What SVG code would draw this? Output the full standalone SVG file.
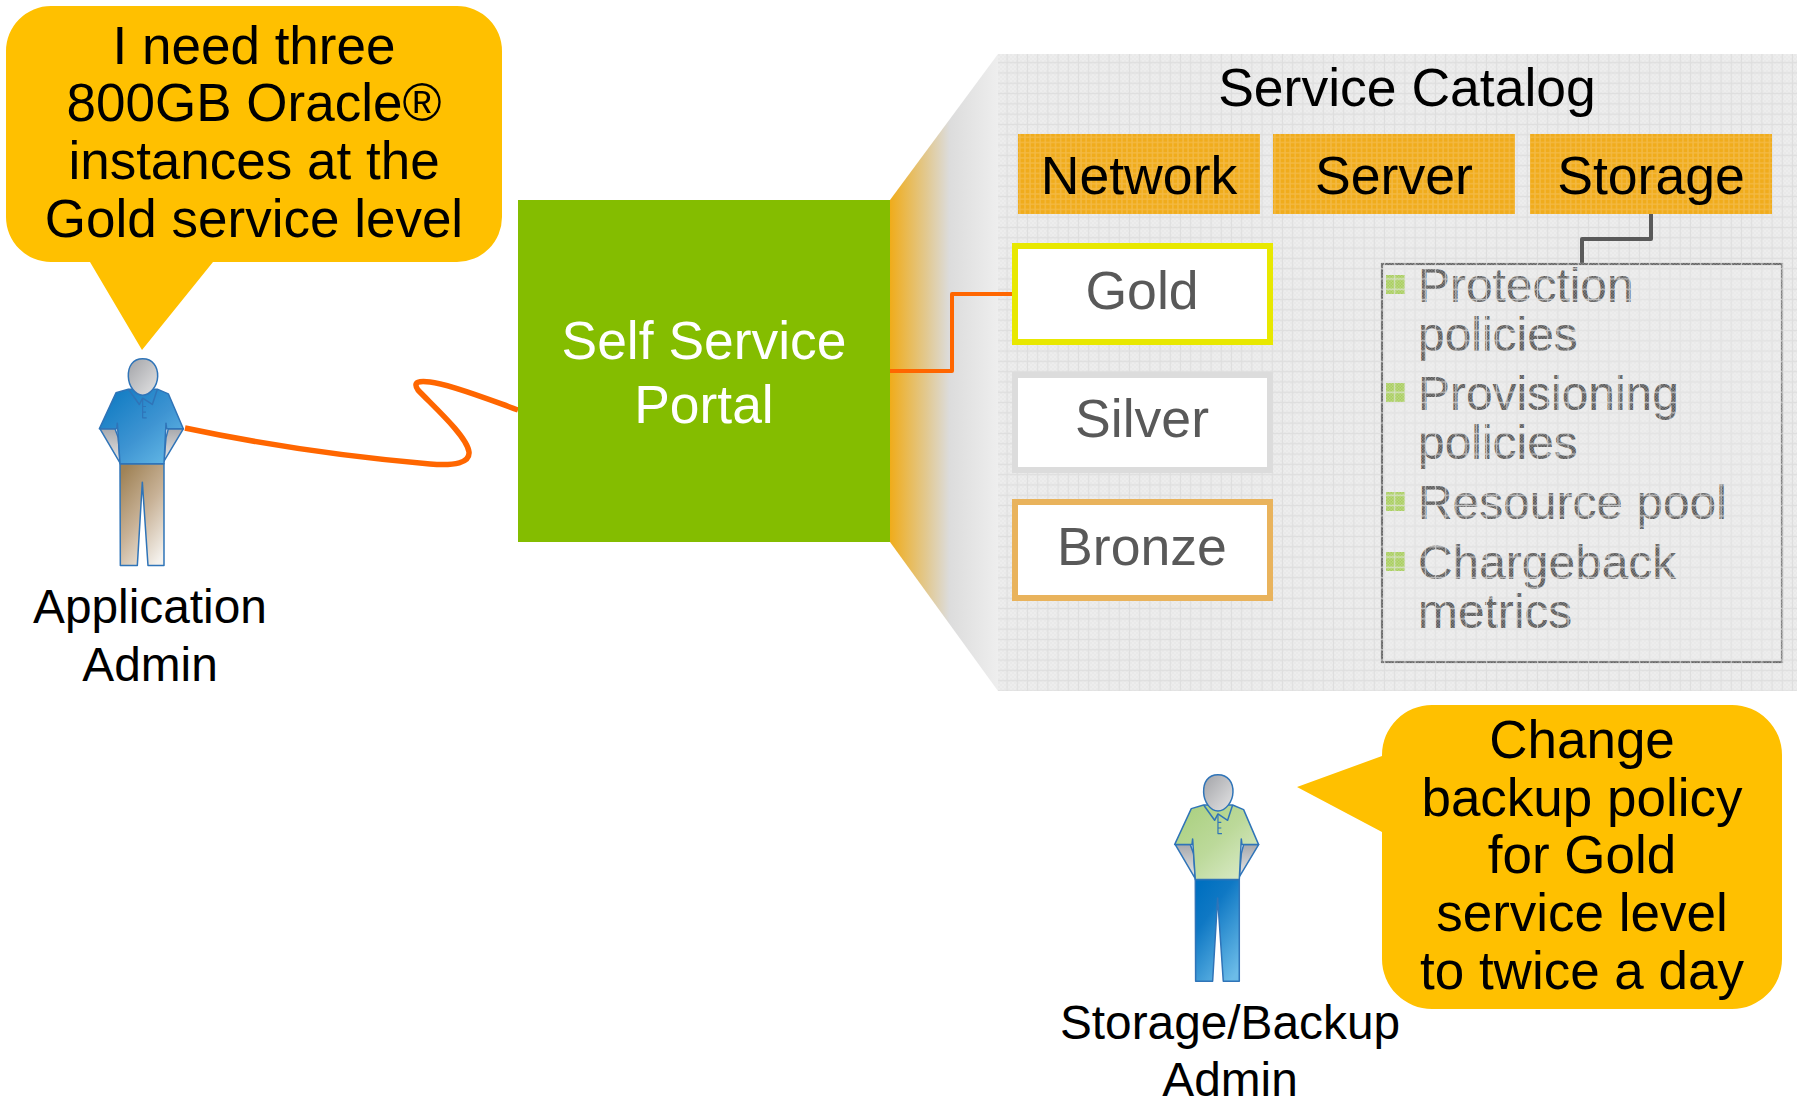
<svg xmlns="http://www.w3.org/2000/svg" width="1801" height="1099" viewBox="0 0 1801 1099">
<style>
text{font-family:"Liberation Sans",Arial,sans-serif;text-anchor:middle}
.k{fill:#000}
.callout{fill:#ffc000}
.c{font-size:53px}
.lab{font-size:47.8px}
.cat{font-size:53.6px}
.tier{fill:#fff;stroke-width:6}
.tt{font-size:53.6px;fill:#595959}
.det{font-size:47.9px;fill:#595959;text-anchor:start}
.bul{fill:#a9cf5e}
.or{fill:#f0ac1c}
.orp{fill:url(#orGrid)}
.pstroke{stroke:#2f74b8;stroke-width:4.5;stroke-linejoin:round}
.conn{fill:none;stroke-linejoin:round}
</style>
<defs>
<linearGradient id="bevel" x1="890" x2="998" y1="0" y2="0" gradientUnits="userSpaceOnUse"><stop offset="0" stop-color="#f0ac1a"/><stop offset=".33" stop-color="#e2c88e"/><stop offset=".55" stop-color="#dcdcdc"/><stop offset="1" stop-color="#eeeeee"/></linearGradient>
<pattern id="dither" width="4" height="4" patternUnits="userSpaceOnUse" x="998" y="54"><rect width="4" height="4" fill="#ededed"/><rect width="2" height="2" fill="#e9e9e9"/><rect x="2" y="2" width="2" height="2" fill="#e9e9e9"/></pattern>
<pattern id="grid" width="10.2" height="10.3" patternUnits="userSpaceOnUse" x="1002" y="57.5"><path d="M5.1 0V10.3M0 5.15H10.2" stroke="#dedede" stroke-width="1.2" fill="none"/></pattern>
<pattern id="gridOver" width="10.2" height="10.3" patternUnits="userSpaceOnUse" x="1002" y="57.5"><path d="M5.1 0V10.3M0 5.15H10.2" stroke="#e6e6e6" stroke-width="1.2" fill="none" opacity=".7"/></pattern>
<pattern id="ditherOver" width="3" height="3" patternUnits="userSpaceOnUse"><rect width="1.5" height="1.5" fill="#ececec" opacity=".25"/><rect x="1.5" y="1.5" width="1.5" height="1.5" fill="#ececec" opacity=".25"/></pattern>
<pattern id="orGrid" width="5.1" height="5.15" patternUnits="userSpaceOnUse" x="1002" y="57.5"><path d="M2.55 0V5.15M0 2.57H5.1" stroke="#f6c66c" stroke-width="1.4" fill="none" opacity=".5"/></pattern>
<linearGradient id="skin" x1="0" y1="0" x2="1" y2="1"><stop offset="0" stop-color="#a2a3a7"/><stop offset="1" stop-color="#e4e4e5"/></linearGradient>
<linearGradient id="arm" x1="0" y1="0" x2="0" y2="1"><stop offset="0" stop-color="#a8a9ad"/><stop offset="1" stop-color="#e8e8e8"/></linearGradient>
<linearGradient id="shirtA" x1="0" y1="0" x2="1" y2="1"><stop offset="0" stop-color="#0877c0"/><stop offset=".55" stop-color="#3e94d2"/><stop offset="1" stop-color="#6cc0ea"/></linearGradient>
<linearGradient id="shirtB" x1="0" y1="0" x2="1" y2="1"><stop offset="0" stop-color="#a8cf7c"/><stop offset=".5" stop-color="#bcd99a"/><stop offset="1" stop-color="#e0eed0"/></linearGradient>
<linearGradient id="pantsA" x1=".2" y1="0" x2=".8" y2="1"><stop offset="0" stop-color="#a08357"/><stop offset=".5" stop-color="#c8b297"/><stop offset="1" stop-color="#f4f1ec"/></linearGradient>
<linearGradient id="pantsB" x1=".2" y1="0" x2=".8" y2="1"><stop offset="0" stop-color="#0070c0"/><stop offset=".3" stop-color="#0f78c4"/><stop offset="1" stop-color="#6cbce8"/></linearGradient>
<g id="armsShape"><path d="M120 295L180 397L175 322L165 295Z"/><path d="M370 295L312 392L318 322L325 295Z"/></g>
<path id="pantsShape" d="M180 400H312V705H264L247 455L232 705H181Z"/>
<path id="shirtShape" d="M168 187L205 176L292 176L325 190L370 295H320L318 278L312 400H180L172 278L170 295H118Z"/>
<g id="detailShape" fill="none"><path d="M205 176L238 222L248 203L277 222L292 176"/><path d="M248 205V262H260M248 228H258M248 245H258" stroke-width="3.5"/></g>
<path id="headShape" d="M248 85C278 85 294 108 293 138C292 168 270 194 248 194C226 194 206 168 205 138C204 108 218 85 248 85Z"/>
</defs>

<g id="catalog-panel">
<path d="M890 200L998 54V691L890 542Z" fill="url(#bevel)"/>
<rect x="998" y="54" width="799" height="637" fill="url(#dither)"/>
<rect x="998" y="54" width="799" height="637" fill="url(#grid)"/>
</g>

<g id="connectors">
<path class="conn" d="M185 428C270 446 360 458 430 464C455 466 470 463 469 452C467 436 432 405 418 390C412 381 420 381 430 382C450 384 490 400 518 410" stroke="#ff6600" stroke-width="5.5"/>
<path class="conn" d="M890 371H952V294H1016" stroke="#ff6600" stroke-width="4"/>
<path class="conn" d="M1651 214V239H1582V265" stroke="#595959" stroke-width="4"/>
</g>

<g id="callout-app">
<path class="callout" d="M51 6H457A45 45 0 0 1 502 51V217A45 45 0 0 1 457 262H213L142 350L90 262H51A45 45 0 0 1 6 217V51A45 45 0 0 1 51 6Z"/>
<text class="c k" x="254" y="64">I need three</text>
<text class="c k" x="254" y="121">800GB Oracle®</text>
<text class="c k" x="254" y="179">instances at the</text>
<text class="c k" x="254" y="237">Gold service level</text>
</g>

<g id="person-app" transform="translate(60 330.5) scale(.3333)">
<use href="#armsShape" fill="url(#arm)" class="pstroke"/>
<use href="#pantsShape" fill="url(#pantsA)" class="pstroke"/>
<use href="#shirtShape" fill="url(#shirtA)" class="pstroke"/>
<use href="#detailShape" class="pstroke"/>
<use href="#headShape" fill="url(#skin)" class="pstroke"/>
</g>
<g id="label-app">
<text class="lab k" x="150" y="623">Application</text>
<text class="lab k" x="150" y="681">Admin</text>
</g>

<g id="portal">
<rect x="518" y="200" width="372" height="342" fill="#84bd00"/>
<text x="704" y="359" font-size="53.4" fill="#fff">Self Service</text>
<text x="704" y="423" font-size="53.4" fill="#fff">Portal</text>
</g>

<g id="catalog-title"><text class="k" x="1407" y="106" font-size="53.5">Service Catalog</text></g>

<g id="cat-network">
<rect class="or" x="1018" y="134" width="242" height="80"/><rect class="orp" x="1018" y="134" width="242" height="80"/>
<text class="cat k" x="1139" y="194">Network</text>
</g>
<g id="cat-server">
<rect class="or" x="1273" y="134" width="242" height="80"/><rect class="orp" x="1273" y="134" width="242" height="80"/>
<text class="cat k" x="1394" y="194">Server</text>
</g>
<g id="cat-storage">
<rect class="or" x="1530" y="134" width="242" height="80"/><rect class="orp" x="1530" y="134" width="242" height="80"/>
<text class="cat k" x="1651" y="194">Storage</text>
</g>

<g id="tier-gold"><rect class="tier" x="1015" y="246" width="255" height="96" stroke="#e8e800"/><text class="tt" x="1142" y="309">Gold</text></g>
<g id="tier-silver"><rect class="tier" x="1015" y="375" width="255" height="95" stroke="#dcdcdc"/><text class="tt" x="1142" y="437">Silver</text></g>
<g id="tier-bronze"><rect class="tier" x="1015" y="502" width="255" height="96" stroke="#e9b35c"/><text class="tt" x="1142" y="565">Bronze</text></g>

<g id="storage-details">
<rect x="1382" y="264" width="400" height="398" fill="none" stroke="#666" stroke-width="2.2"/>
<rect class="bul" x="1386" y="275" width="19" height="19"/>
<rect class="bul" x="1386" y="383" width="19" height="19"/>
<rect class="bul" x="1386" y="492" width="19" height="19"/>
<rect class="bul" x="1386" y="552" width="19" height="19"/>
<text class="det" x="1418" y="302">Protection</text>
<text class="det" x="1418" y="351">policies</text>
<text class="det" x="1418" y="410">Provisioning</text>
<text class="det" x="1418" y="459">policies</text>
<text class="det" x="1418" y="519">Resource pool</text>
<text class="det" x="1418" y="579">Chargeback</text>
<text class="det" x="1418" y="628">metrics</text>
<rect x="1380" y="262" width="404" height="402" fill="url(#ditherOver)"/>
<rect x="1380" y="262" width="404" height="402" fill="url(#gridOver)"/>
</g>

<g id="callout-storage">
<path class="callout" d="M1432 705H1732A50 50 0 0 1 1782 755V959A50 50 0 0 1 1732 1009H1432A50 50 0 0 1 1382 959V832L1297 787L1382 756V755A50 50 0 0 1 1432 705Z"/>
<text class="c k" x="1582" y="758">Change</text>
<text class="c k" x="1582" y="816">backup policy</text>
<text class="c k" x="1582" y="873">for Gold</text>
<text class="c k" x="1582" y="931">service level</text>
<text class="c k" x="1582" y="989">to twice a day</text>
</g>

<g id="person-storage" transform="translate(1135.3 746.3) scale(.3333)">
<use href="#armsShape" fill="url(#arm)" class="pstroke"/>
<use href="#pantsShape" fill="url(#pantsB)" class="pstroke"/>
<use href="#shirtShape" fill="url(#shirtB)" class="pstroke"/>
<use href="#detailShape" class="pstroke"/>
<use href="#headShape" fill="url(#skin)" class="pstroke"/>
</g>
<g id="label-storage">
<text class="lab k" x="1230" y="1039">Storage/Backup</text>
<text class="lab k" x="1230" y="1096">Admin</text>
</g>
</svg>
